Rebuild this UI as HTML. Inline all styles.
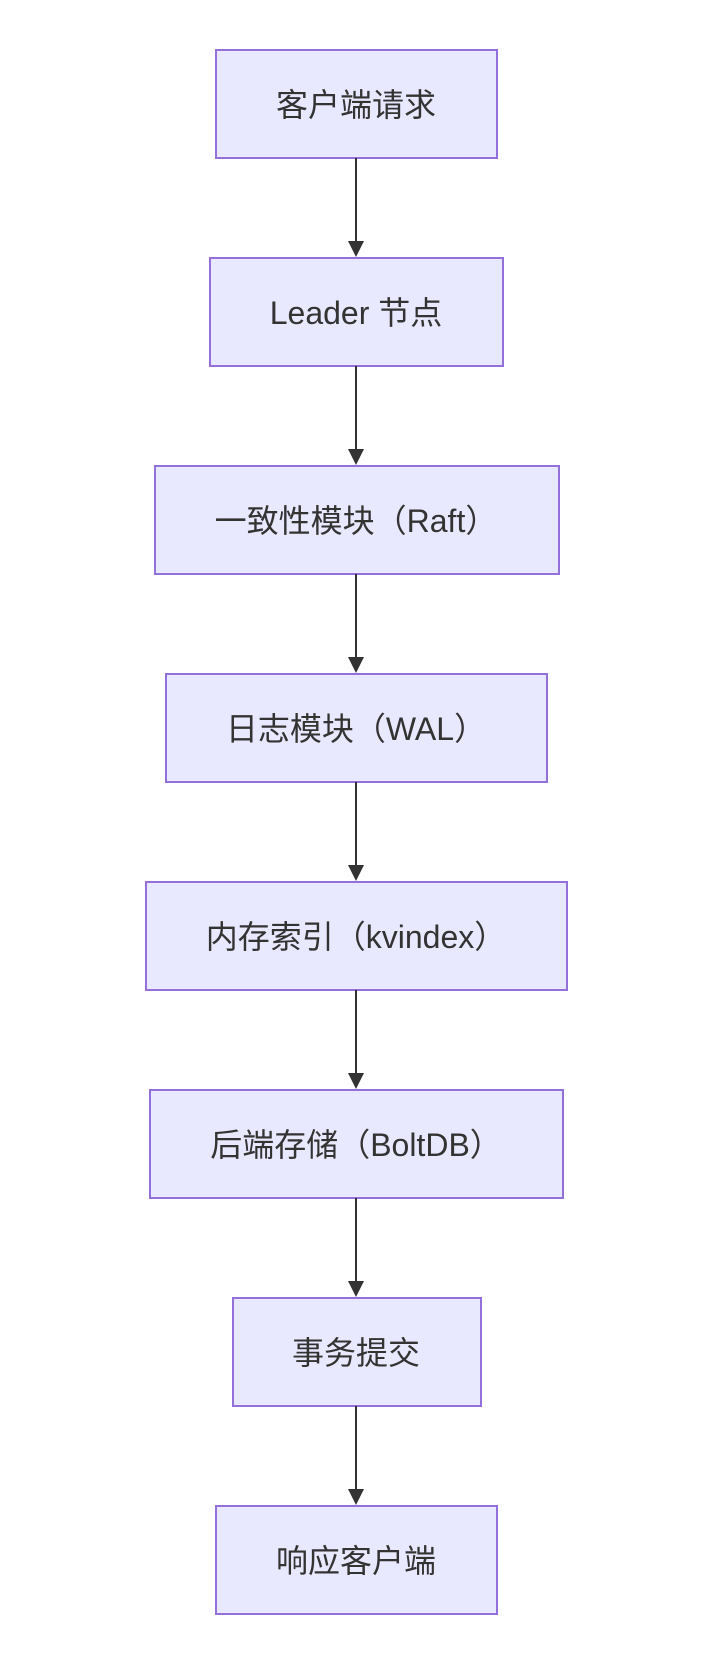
<!DOCTYPE html>
<html><head><meta charset="utf-8"><style>
html,body{margin:0;padding:0;background:#fff;width:714px;height:1678px;overflow:hidden}
</style></head><body>
<svg width="714" height="1678" xmlns="http://www.w3.org/2000/svg" style="display:block">
<g font-family="'Liberation Sans','Noto Sans CJK SC',sans-serif" font-size="32" fill="#333" text-anchor="middle">
<g fill="#e8e8ff" stroke="#9370db" stroke-width="2">
<rect x="216" y="50" width="281" height="108"/>
<rect x="210" y="258" width="293" height="108"/>
<rect x="155" y="466" width="404" height="108"/>
<rect x="166" y="674" width="381" height="108"/>
<rect x="146" y="882" width="421" height="108"/>
<rect x="150" y="1090" width="413" height="108"/>
<rect x="233" y="1298" width="248" height="108"/>
<rect x="216" y="1506" width="281" height="108"/>
</g>
<g stroke="#333" stroke-width="2">
<line x1="356" y1="158" x2="356" y2="244"/>
<line x1="356" y1="366" x2="356" y2="452"/>
<line x1="356" y1="574" x2="356" y2="660"/>
<line x1="356" y1="782" x2="356" y2="868"/>
<line x1="356" y1="990" x2="356" y2="1076"/>
<line x1="356" y1="1198" x2="356" y2="1284"/>
<line x1="356" y1="1406" x2="356" y2="1492"/>
</g>
<g fill="#333">
<polygon points="348,241 364,241 356,257"/>
<polygon points="348,449 364,449 356,465"/>
<polygon points="348,657 364,657 356,673"/>
<polygon points="348,865 364,865 356,881"/>
<polygon points="348,1073 364,1073 356,1089"/>
<polygon points="348,1281 364,1281 356,1297"/>
<polygon points="348,1489 364,1489 356,1505"/>
</g>
<text x="356" y="116">客户端请求</text>
<text x="356" y="324">Leader 节点</text>
<text x="356" y="532">一致性模块（Raft）</text>
<text x="356" y="740">日志模块（WAL）</text>
<text x="356" y="948">内存索引（kvindex）</text>
<text x="356" y="1156">后端存储（BoltDB）</text>
<text x="356" y="1364">事务提交</text>
<text x="356" y="1572">响应客户端</text>
</g>
</svg>
</body></html>
